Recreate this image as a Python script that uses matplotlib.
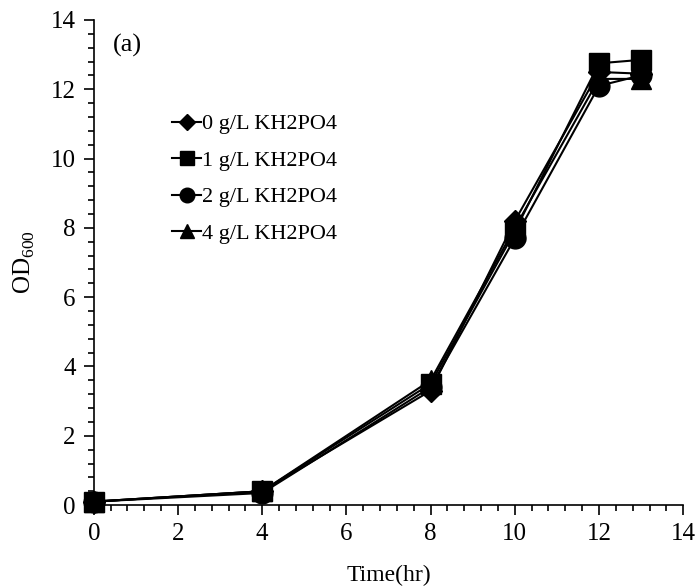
import matplotlib
matplotlib.use("Agg")
import matplotlib.pyplot as plt
from matplotlib.ticker import MultipleLocator

plt.rcParams['font.family'] = ['Liberation Serif', 'DejaVu Serif']
plt.rcParams['mathtext.fontset'] = 'custom'
plt.rcParams['mathtext.rm'] = 'Liberation Serif'

time = [0, 4, 8, 10, 12, 13]
od_0 = [0.1, 0.4, 3.3, 8.2, 12.5, 12.45]
od_1 = [0.1, 0.4, 3.5, 7.9, 12.75, 12.85]
od_2 = [0.1, 0.35, 3.4, 7.7, 12.1, 12.4]
od_4 = [0.1, 0.4, 3.6, 8.0, 12.3, 12.3]
labels = ['0 g/L KH2PO4', '1 g/L KH2PO4', '2 g/L KH2PO4', '4 g/L KH2PO4']
x_ticks = [0, 2, 4, 6, 8, 10, 12, 14]
y_ticks = [0, 2, 4, 6, 8, 10, 12, 14]

fig = plt.figure(figsize=(7, 5.88), dpi=100)
ax = fig.add_axes([0.134, 0.141, 0.842, 0.825])

series = [(od_0, 'D', 11, 2), (od_1, 's', 15, 5), (od_2, 'o', 15, 4), (od_4, '^', 14, 3)]
handles = []
for (vals, mk, ms, z), lab in zip(series, labels):
    h, = ax.plot(time, vals, color='black', marker=mk, markersize=ms, linewidth=1.5,
                 label=lab, zorder=z, clip_on=False)
    handles.append(h)

ax.set_xlim(0, 14)
ax.set_ylim(0, 14)
ax.set_xticks(x_ticks)
ax.set_yticks(y_ticks)
ax.xaxis.set_minor_locator(MultipleLocator(0.4))
ax.yaxis.set_minor_locator(MultipleLocator(0.4))
ax.tick_params(which='major', direction='out', length=7, width=1.2, labelsize=18, pad=6)
ax.tick_params(which='minor', direction='out', length=4, width=1.2)
for s in ['top', 'right']:
    ax.spines[s].set_visible(False)
for s in ['left', 'bottom']:
    ax.spines[s].set_linewidth(1.2)

ax.set_xlabel('Time(hr)', fontsize=17, labelpad=14)
ax.set_ylabel('OD$_{600}$', fontsize=18, labelpad=10)
ax.text(0.45, 13.1, '(a)', fontsize=19)

ax.legend(handles=handles, loc='upper left', bbox_to_anchor=(0.118, 0.825), frameon=False,
          fontsize=16, markerscale=0.7, handlelength=1.3, handletextpad=0.06,
          labelspacing=0.72, borderaxespad=0)

fig.savefig('out.png', dpi=100)
